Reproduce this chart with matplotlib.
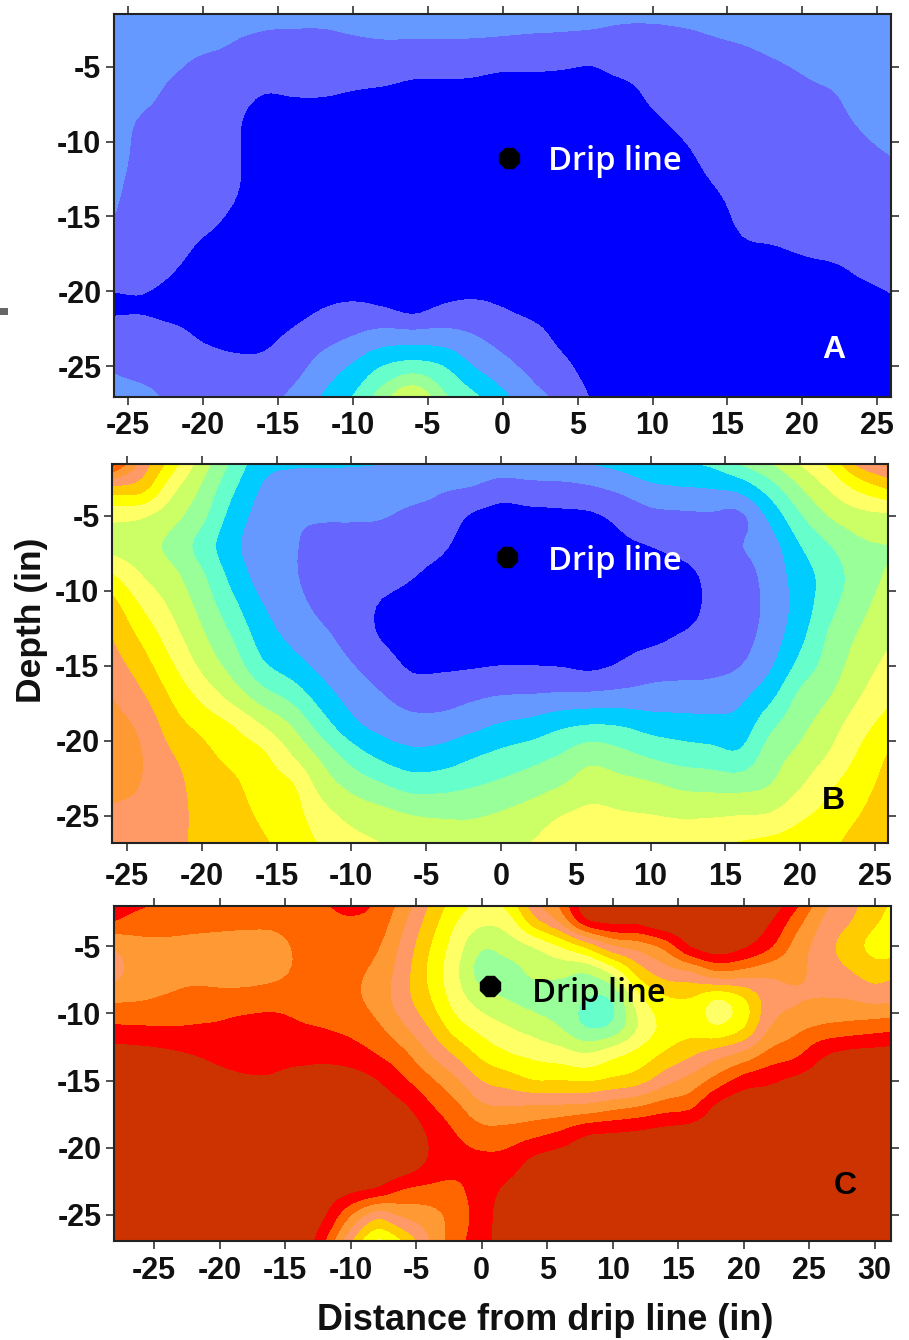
import numpy as np
import matplotlib
matplotlib.use("Agg")
import matplotlib.pyplot as plt
from matplotlib.patches import Rectangle

W, H = 909, 1340
plt.rcParams['axes.unicode_minus'] = False
plt.rcParams['font.family'] = ['Liberation Sans', 'DejaVu Sans']

depth_rows = [-1, -3, -5, -7, -9, -11, -13, -15, -17, -19, -21, -23, -25, -27]
dist_ab = list(range(-26, 28, 2))
dist_c = list(range(-28, 34, 2))

# Colour-band value per distance column (one list per column, top to bottom)
level_a = [
 [2.9,2.8,2.7,2.6,2.5,2.4,2.2,2.0,1.6,1.3,.85,1.5,1.9,2.3],
 [2.9,2.7,2.4,2.2,1.8,1.7,1.6,1.5,1.4,1.25,.9,1.4,1.7,2.2],
 [2.8,2.5,2.1,1.8,1.7,1.6,1.55,1.5,1.3,.95,.6,1.3,1.6,1.8],
 [2.6,2.3,1.8,1.7,1.65,1.6,1.5,1.3,.85,.5,.4,.85,1.5,1.7],
 [2.5,2.05,1.75,1.4,1.2,1.2,1.15,.85,.5,.3,.3,.6,1.3,1.6],
 [2.4,1.9,1.5,.95,.4,.4,.35,.3,.2,.2,.2,.75,1.2,1.6],
 [2.6,1.8,1.4,1.0,.5,.3,.2,.2,.2,.3,.6,1.15,1.6,2.2],
 [2.6,1.8,1.4,1.0,.5,.3,.2,.2,.25,.5,.95,1.6,2.4,3.05],
 [2.7,1.95,1.4,.9,.5,.3,.2,.2,.3,.55,1.1,2.0,3.1,4.0],
 [2.8,2.05,1.4,.8,.4,.2,.2,.2,.3,.55,.97,2.4,4.0,5.5],
 [2.8,2.05,1.25,.7,.35,.2,.2,.2,.3,.5,.65,2.4,4.4,6.9],
 [2.8,2.05,1.25,.7,.35,.2,.2,.2,.3,.5,1.05,2.4,4.0,5.2],
 [2.75,2.03,1.2,.7,.35,.2,.2,.2,.3,.6,1.15,2.05,3.0,4.2],
 [2.7,1.97,1.1,.6,.3,.2,.2,.2,.3,.5,.97,1.6,2.3,3.2],
 [2.7,1.9,1.1,.6,.3,.2,.2,.2,.25,.4,.7,1.3,1.7,2.3],
 [2.7,1.85,1.05,.6,.3,.2,.2,.2,.2,.3,.5,.75,1.2,1.7],
 [2.75,1.75,.98,.6,.3,.2,.2,.2,.2,.2,.3,.4,.6,.9],
 [2.6,1.6,1.25,.6,.35,.2,.2,.2,.2,.2,.2,.2,.3,.4],
 [2.6,1.6,1.4,1.15,.75,.4,.2,.2,.2,.2,.2,.2,.2,.3],
 [2.7,1.75,1.6,1.4,1.15,.75,.4,.2,.2,.2,.2,.2,.2,.2],
 [2.8,1.97,1.7,1.6,1.5,1.3,.95,.5,.25,.2,.2,.2,.2,.2],
 [2.9,2.15,1.65,1.65,1.6,1.5,1.4,1.25,.85,.5,.3,.2,.2,.2],
 [2.9,2.4,1.85,1.65,1.6,1.55,1.5,1.4,.97,.6,.35,.2,.2,.2],
 [2.9,2.6,2.1,1.75,1.65,1.6,1.5,1.45,1.1,.75,.45,.3,.2,.2],
 [2.95,2.7,2.4,1.9,1.7,1.6,1.5,1.4,1.2,.8,.5,.3,.2,.2],
 [2.95,2.8,2.6,2.4,2.05,1.8,1.6,1.45,1.3,1.03,.6,.35,.2,.2],
 [2.95,2.85,2.7,2.5,2.3,2.0,1.7,1.55,1.4,1.2,.85,.5,.3,.2],
]

level_b = [
 [14.5,10,7.3,6.7,8.1,9.4,9.95,10.45,10.97,11.4,11.6,11.4,10.7,10.4],
 [11,9.5,7.1,6.4,7.0,7.9,8.75,9.45,10.1,10.75,11.0,10.95,10.7,10.5],
 [8.9,7.4,6.35,5.7,6.27,6.8,7.4,8.1,8.85,9.45,10.05,10.4,10.5,10.4],
 [6.7,5.9,5.25,4.6,5.15,5.65,6.15,6.75,7.7,8.7,9.3,9.5,9.6,9.6],
 [5.05,4.25,3.65,3.3,3.7,4.3,4.95,5.6,6.6,8.0,8.7,9.2,9.4,9.5],
 [3.5,2.95,2.6,2.4,2.6,3.05,3.55,4.2,5.45,7.0,8.2,8.5,8.85,9.15],
 [3.3,2.6,2.15,2.1,2.15,2.4,2.75,3.45,4.65,5.95,7.0,8.1,8.4,8.6],
 [3.3,2.55,2.1,1.65,1.45,1.75,2.2,2.7,3.5,4.5,5.75,6.6,7.4,7.95],
 [3.3,2.5,2.1,1.6,1.4,1.4,1.6,2.05,2.6,3.3,4.55,5.7,6.7,7.4],
 [3.2,2.5,2.05,1.6,1.35,.92,.92,1.5,2.05,2.65,3.75,5.1,6.35,7.05],
 [3.25,2.4,1.8,1.35,1.05,.6,.5,.85,1.6,2.35,3.3,4.6,6.0,6.7],
 [3.2,2.15,1.65,1.15,.7,.4,.4,.85,1.55,2.4,3.4,4.65,5.9,6.6],
 [3.2,2.0,.9,.5,.3,.2,.4,.9,1.8,2.7,3.85,4.9,5.9,6.5],
 [3.3,1.55,.7,.4,.25,.2,.4,1.0,2.0,3.1,4.25,5.2,6.1,6.6],
 [3.3,1.7,.75,.4,.25,.2,.4,1.0,2.05,3.35,4.6,5.55,6.45,7.05],
 [3.4,1.75,.8,.4,.25,.2,.4,.95,2.15,3.8,5.05,5.97,6.97,7.6],
 [3.4,1.95,.85,.4,.25,.2,.35,.8,2.2,4.05,5.65,6.5,7.25,7.7],
 [3.7,2.3,1.25,.8,.4,.3,.6,1.1,2.3,3.95,5.3,6.35,7.1,7.6],
 [4.3,2.8,1.7,1.0,.6,.4,.7,1.55,2.35,3.6,4.85,6.15,7.02,7.6],
 [4.4,3.0,1.8,1.25,.7,.45,1.05,1.65,2.4,3.45,4.55,5.8,6.9,7.6],
 [4.5,3.1,1.85,1.5,1.2,1.2,1.35,1.7,2.45,3.35,4.4,5.7,6.9,7.95],
 [5.6,3.45,1.8,1.95,1.6,1.45,1.6,1.97,2.75,3.4,4.2,5.65,7.0,8.15],
 [6.4,4.6,3.25,2.55,2.35,2.3,2.45,2.85,3.7,4.75,5.5,6.0,7.1,8.4],
 [7.4,6.0,4.85,3.95,3.5,3.4,3.7,4.3,5.2,5.7,6.25,6.9,7.8,8.6],
 [8.6,7.2,6.05,4.95,4.45,4.7,5.15,5.45,5.95,6.55,7.1,7.85,8.35,8.8],
 [11,8.4,6.65,5.8,5.5,5.7,6.1,6.5,6.95,7.6,8.15,8.6,9.0,9.5],
 [12,9.3,6.8,6.0,6.15,6.5,6.85,7.3,7.8,8.45,9.1,9.4,9.7,9.8],
]

level_c = [
 [13.6,13.05,11.1,10.7,11.85,13.1,14.4,14.7,14.8,14.8,14.9,14.9,14.9,14.9],
 [13.6,12.6,11.7,11.5,11.95,13.05,14.3,14.7,14.8,14.8,14.9,14.9,14.9,14.9],
 [12.9,12.4,11.8,11.6,12.15,13.0,14.15,14.6,14.8,14.8,14.9,14.9,14.9,14.9],
 [12.9,12.4,11.7,11.7,12.4,13.05,13.95,14.5,14.8,14.8,14.9,14.9,14.9,14.9],
 [12.8,12.35,11.6,11.65,12.35,13.15,13.75,14.25,14.7,14.8,14.9,14.9,14.9,14.9],
 [12.8,12.3,11.55,11.65,12.4,13.4,13.7,14.1,14.6,14.8,14.9,14.9,14.9,14.9],
 [12.8,12.3,11.6,11.75,12.55,13.45,13.7,14.1,14.6,14.8,14.9,14.9,14.9,14.9],
 [12.8,12.5,12.15,12.15,12.6,13.1,13.6,14.4,14.7,14.8,14.9,14.9,14.9,14.9],
 [13.15,12.7,12.5,12.5,12.7,12.95,13.7,14.4,14.7,14.8,14.8,14.6,14.05,13.0],
 [13.7,12.9,12.5,12.2,12.25,12.7,13.45,14.4,14.7,14.85,14.8,14.3,12.0,10.0],
 [13.0,12.6,12.1,11.7,11.6,12.15,12.95,14.0,14.6,14.8,14.8,13.9,10.4,7.7],
 [11.9,11.2,10.7,10.4,10.4,11.1,12.2,13.15,14.15,14.8,14.8,13.05,11.15,8.9],
 [10.2,9.6,9.05,8.8,9.1,9.9,10.95,12.2,13.15,13.85,13.85,12.8,11.6,10.9],
 [8.9,8.1,7.5,7.2,7.55,8.45,9.8,11.15,12.25,13.0,13.35,12.8,12.4,12.6],
 [8.2,7.3,6.1,5.6,6.5,7.6,8.7,9.95,11.2,12.4,13.25,13.5,13.5,13.5],
 [8.9,7.6,6.45,5.6,6.0,7.0,8.05,9.5,11.05,12.45,13.4,14.15,14.5,14.6],
 [11.2,9.7,7.05,6.15,5.7,6.55,7.7,9.0,11.15,12.75,14.2,14.6,14.7,14.8],
 [12.6,11.3,8.0,6.2,5.55,5.95,7.4,9.0,11.2,13.2,14.5,14.7,14.8,14.8],
 [14.9,13.9,9.2,6.0,4.95,4.95,7.0,8.9,11.3,13.9,14.6,14.8,14.8,14.8],
 [14.9,14.4,10.8,7.1,5.05,5.2,7.6,9.2,11.7,14.05,14.6,14.8,14.8,14.8],
 [14.95,14.4,11.4,9.3,7.6,7.05,8.3,9.6,12.05,14.2,14.7,14.8,14.8,14.8],
 [15,15,12.3,10.4,8.75,8.3,9.1,10.6,12.55,14.4,14.8,14.8,14.8,14.8],
 [15,14.8,14.0,10.8,8.85,8.6,9.8,11.35,12.85,14.6,14.85,14.8,14.8,14.8],
 [15,14.9,14.6,11.7,7.9,8.05,10.5,12.4,14.2,14.8,14.8,14.8,14.8,14.8],
 [15,14.8,14.1,11.5,8.8,8.9,11.2,13.4,14.7,14.8,14.8,14.8,14.8,14.8],
 [15,14.1,13.1,11.2,10.5,10.95,12.25,13.8,14.6,14.8,14.8,14.8,14.8,14.8],
 [13.8,12.5,11.6,11.2,10.9,11.7,12.75,14.2,14.7,14.8,14.8,14.8,14.8,14.8],
 [11.7,10.95,10.5,10.6,11.05,12.1,13.8,14.5,14.8,14.8,14.8,14.8,14.8,14.8],
 [10.6,10.1,9.5,10.1,11.0,12.3,14.2,14.7,14.8,14.8,14.8,14.8,14.8,14.8],
 [9.6,9.15,8.7,9.55,10.75,12.5,14.3,14.7,14.8,14.8,14.8,14.8,14.8,14.8],
 [8.7,8.5,8.5,9.9,10.9,12.7,14.4,14.8,14.8,14.8,14.8,14.8,14.8,14.8],
]

band_levels = [-5, 1, 2, 3, 4, 5, 6, 7, 8, 9, 10, 11, 12, 13, 14, 20]
band_colors = ['#0000FF', '#6666FF', '#6699FF', '#00CCFF', '#66FFCC', '#99FF99',
               '#CCFF66', '#FFFF66', '#FFFF00', '#FFCC00', '#FF9966', '#FF9933',
               '#FF6600', '#FF0000', '#CC3300']

xticks_ab = [-25, -20, -15, -10, -5, 0, 5, 10, 15, 20, 25]
xticks_c = [-25, -20, -15, -10, -5, 0, 5, 10, 15, 20, 25, 30]
yticks = [-5, -10, -15, -20, -25]

drip_a = (0.42, -11.1)
drip_b = (0.43, -7.74)
drip_c = (0.64, -7.96)


def smooth_axis(z, factor=4):
    """Catmull-Rom surface drawing along axis 0: keeps every read value."""
    n = z.shape[0]
    zp = np.concatenate([[2 * z[0] - z[1]], z, [2 * z[-1] - z[-2]]])
    out = []
    for i in range(n - 1):
        for k in range(factor):
            t = k / factor
            p0, p1, p2, p3 = zp[i], zp[i + 1], zp[i + 2], zp[i + 3]
            out.append(0.5 * (2 * p1 + (p2 - p0) * t + (2 * p0 - 5 * p1 + 4 * p2 - p3) * t ** 2
                              + (3 * p1 - p0 - 3 * p2 + p3) * t ** 3))
    out.append(z[-1])
    return np.array(out)


def make_axes(fig, box, xlim, ylim, dist, level, xticks, drip, xpad):
    l, t, r, b = box
    ax = fig.add_axes([l / W, 1 - b / H, (r - l) / W, (b - t) / H])
    z = np.array(level).T
    z = smooth_axis(z)
    z = smooth_axis(z.T).T
    yy = np.interp(np.arange(z.shape[0]) / 4, np.arange(len(depth_rows)), depth_rows)
    xx = np.interp(np.arange(z.shape[1]) / 4, np.arange(len(dist)), dist)
    ax.contourf(xx, yy, z, levels=band_levels, colors=band_colors, antialiased=False)
    ax.set_xlim(*xlim)
    ax.set_ylim(*ylim)
    ax.set_xticks(xticks, [str(v) for v in xticks])
    ax.set_yticks(yticks, [str(v) for v in yticks])
    ax.tick_params(axis='both', which='major', direction='out', length=5.8,
                   width=1.1, color='#222222', labelsize=22,
                   top=True, right=True, pad=3.2, labelcolor='#111111')
    ax.tick_params(axis='x', pad=xpad)
    for s in ax.spines.values():
        s.set_linewidth(1.5)
        s.set_color('#222222')
    for lab in ax.get_xticklabels() + ax.get_yticklabels():
        lab.set_fontweight('bold')
    ax.plot([drip[0]], [drip[1]], marker='8', ms=15.5, color='black',
            mec='black', ls='none', zorder=5)
    return ax


fig = plt.figure(figsize=(W / 100, H / 100), dpi=100, facecolor='white')
make_axes(fig, (114, 14, 891, 397), (-25.95, 25.92), (-27.06, -1.48), dist_ab, level_a, xticks_ab, drip_a, 4.2)
make_axes(fig, (112, 464, 888, 843), (-26.0, 25.87), (-26.83, -1.53), dist_ab, level_b, xticks_ab, drip_b, 8.0)
make_axes(fig, (114, 906, 891, 1241), (-28.06, 31.24), (-26.94, -2.0), dist_c, level_c, xticks_c, drip_c, 5.0)


def ftext(px, py, s, **kw):
    return fig.text(px / W, 1 - py / H, s, **kw)


for px, py, col in [(548, 170, 'white'), (548, 569.5, 'white'), (532, 1002, 'black')]:
    ftext(px, py, 'Drip line', color=col, fontsize=23.6, family='Open Sans',
          fontweight='semibold', ha='left', va='baseline')
for px, py, s, col in [(834, 358, 'A', 'white'), (833, 809, 'B', 'black'), (845, 1194, 'C', 'black')]:
    ftext(px, py, s, color=col, fontsize=23, fontweight='bold', ha='center', va='baseline')

ftext(31, 620.5, 'Depth (in)', rotation=90, fontsize=25.5, fontweight='bold',
      ha='center', va='center', color='#111111')
ftext(545.5, 1330, 'Distance from drip line (in)', fontsize=25.9, fontweight='bold',
      ha='center', va='baseline', color='#111111')

fig.patches.append(Rectangle((0, 1 - 315 / H), 8 / W, 7 / H, transform=fig.transFigure,
                             facecolor='#666666', edgecolor='none'))

fig.savefig('out.png', dpi=100, facecolor='white')
